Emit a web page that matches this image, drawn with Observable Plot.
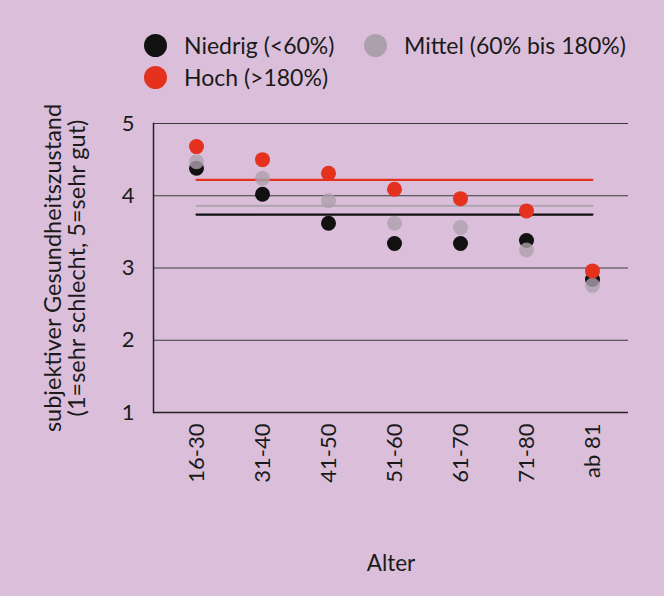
<!DOCTYPE html>
<html>
<head>
<meta charset="utf-8">
<script src="https://cdn.jsdelivr.net/npm/d3@7"></script>
<script src="https://cdn.jsdelivr.net/npm/@observablehq/plot@0.6"></script>
<style>
  html, body { margin: 0; padding: 0; background: #dbbfda; }
  body { width: 664px; height: 596px; overflow: hidden; font-family: Lato, sans-serif; color: #1a1a1a; }
  #legend { position: relative; height: 100px; }
  .item { position: absolute; font-size: 23px; display: flex; align-items: center; line-height: 26px; }
  .dot { width: 23px; height: 23px; border-radius: 50%; margin-right: 17px; }
  #chart svg { overflow: visible; }
</style>
</head>
<body>
<div id="legend"></div>
<div id="chart"></div>
<script>
const ageGroups = ["16-30", "31-40", "41-50", "51-60", "61-70", "71-80", "ab 81"];
const seriesNames = ["Niedrig (<60%)", "Mittel (60% bis 180%)", "Hoch (>180%)"];
const seriesColors = ["#111111", "#ada0ad", "#e5321f"];
const niedrig = [4.38, 4.02, 3.62, 3.34, 3.34, 3.38, 2.84];
const mittel  = [4.47, 4.24, 3.93, 3.62, 3.56, 3.25, 2.76];
const hoch    = [4.68, 4.50, 4.31, 4.09, 3.96, 3.79, 2.96];
const means   = [3.74, 3.86, 4.22];
const yTicks  = [1, 2, 3, 4, 5];
const gridValues = [2, 3, 4, 5];

const seriesValues = [niedrig, mittel, hoch];
const points = [];
seriesValues.forEach((vals, s) => vals.forEach((v, i) => points.push({age: ageGroups[i], value: v, series: seriesNames[s]})));
const meanLines = [];
means.forEach((m, s) => {
  meanLines.push({age: ageGroups[0], value: m, series: seriesNames[s]});
  meanLines.push({age: ageGroups[ageGroups.length - 1], value: m, series: seriesNames[s]});
});

// legend
const legend = document.getElementById("legend");
const legendPos = [[144, 32], [364, 32], [144, 64]];
seriesNames.forEach((name, i) => {
  const d = document.createElement("div");
  d.className = "item";
  d.style.left = legendPos[i][0] + "px";
  d.style.top = legendPos[i][1] + "px";
  d.innerHTML = `<span class="dot" style="background:${seriesColors[i]}"></span><span></span>`;
  d.lastChild.textContent = name;
  legend.appendChild(d);
});

const color = {domain: seriesNames, range: seriesColors};

const chart = Plot.plot({
  width: 664,
  height: 496,
  marginLeft: 153,
  marginRight: 36,
  marginTop: 23,
  marginBottom: 184,
  insetLeft: 41,
  insetRight: 35,
  style: {background: "transparent", fontFamily: "Lato, sans-serif", fontSize: "22px", color: "#1a1a1a"},
  x: {type: "point", domain: ageGroups, padding: 0},
  y: {domain: [1, 5]},
  color,
  marks: [
    Plot.ruleY(gridValues, {stroke: "#3a3a3a", strokeWidth: 1}),
    Plot.ruleY([1], {stroke: "#222", strokeWidth: 1.5}),
    Plot.frame({anchor: "left", stroke: "#222", strokeWidth: 1.5}),
    Plot.axisY({ticks: yTicks, tickFormat: "d", tickSize: 0, tickPadding: 19, label: null, fontSize: 22}),
    Plot.axisX({tickSize: 0, tickPadding: 11, tickRotate: -90, label: null, fontSize: 22}),
    Plot.line(meanLines.filter(d => d.series === seriesNames[0]), {x: "age", y: "value", stroke: seriesColors[0], strokeWidth: 2.2}),
    Plot.line(meanLines.filter(d => d.series === seriesNames[1]), {x: "age", y: "value", stroke: "#b3a7b3", strokeWidth: 2.2}),
    Plot.line(meanLines.filter(d => d.series === seriesNames[2]), {x: "age", y: "value", stroke: seriesColors[2], strokeWidth: 2.2}),
    Plot.dot(points.filter(d => d.series === seriesNames[0]), {x: "age", y: "value", r: 7.5, fill: seriesColors[0]}),
    Plot.dot(points.filter(d => d.series === seriesNames[1]), {x: "age", y: "value", r: 7.5, fill: seriesColors[1], fillOpacity: 0.8}),
    Plot.dot(points.filter(d => d.series === seriesNames[2]), {x: "age", y: "value", r: 7.5, fill: seriesColors[2]}),
    Plot.text(["subjektiver Gesundheitszustand"], {frameAnchor: "left", textAnchor: "middle", dx: -100, rotate: -90, fontSize: 23.5, fill: "#1a1a1a"}),
    Plot.text(["(1=sehr schlecht, 5=sehr gut)"], {frameAnchor: "left", textAnchor: "middle", dx: -76, rotate: -90, fontSize: 23.5, fill: "#1a1a1a"}),
    Plot.text(["Alter"], {frameAnchor: "bottom", dy: 158, fontSize: 22.5, fill: "#1a1a1a"})
  ]
});
document.getElementById("chart").appendChild(chart);
</script>
</body>
</html>
